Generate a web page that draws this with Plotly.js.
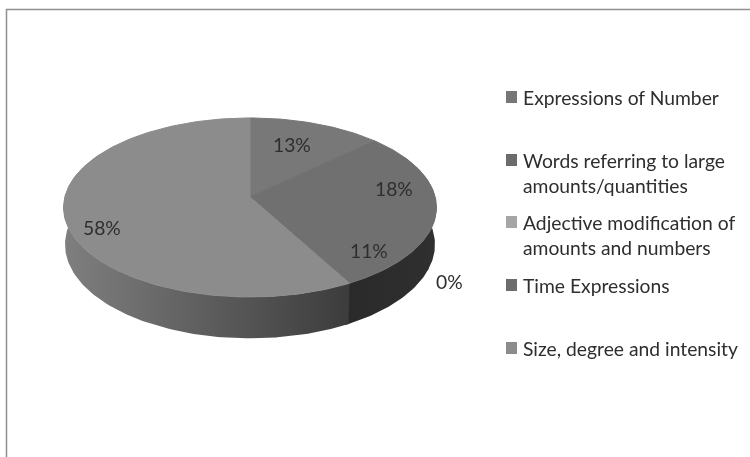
<!DOCTYPE html>
<html>
<head>
<meta charset="utf-8">
<script src="https://cdn.plot.ly/plotly-3.0.1.min.js"></script>
<style>html,body{margin:0;padding:0;background:#fff}#chart{width:750px;height:457px;filter:blur(0.45px)}</style>
</head>
<body>
<div id="chart"></div>
<script>
var categories = ['Expressions of Number', 'Words referring to large amounts/quantities', 'Adjective modification of amounts and numbers', 'Time Expressions', 'Size, degree and intensity'];
var legendLabels = ['Expressions of Number', 'Words referring to large<br>amounts/quantities', 'Adjective modification of<br>amounts and numbers', 'Time Expressions', 'Size, degree and intensity'];
var seriesValues = [13, 18, 11, 0, 58];
var valueLabels = ['13%', '18%', '11%', '0%', '58%'];
var topColors = ['#787878', '#707070', '#707070', '#6c6c6c', '#8c8c8c'];
var swatchColors = ['#767676', '#6c6c6c', '#a6a6a6', '#6c6c6c', '#8c8c8c'];
var wallStops = [['#2c2c2c', '#2c2c2c'], ['#2f2f2f', '#303030'], ['#2a2a2a', '#2f2f2f'], ['#2c2c2c', '#2c2c2c'], ['#7f7f7f', '#3c3c3c']];
var labelX = [292, 394, 369, 449, 102];
var labelY = [144, 188, 250, 281, 227];
var legendY = [97, 172.5, 235, 285, 348];
var legendLineY = [97, 160, 222, 285, 348];

var APEX_X = 250, APEX_Y = 197, SCALE_X = 185.2, SCALE_Y = 88.3, PERSP = 0.117, DEPTH = 36.5;

function rim(theta, lower) {
  var u = Math.sin(theta), v = Math.cos(theta), w = 1 + PERSP * v;
  return {x: APEX_X + (lower ? 0.992 : 1) * SCALE_X * u / w,
          y: APEX_Y - SCALE_Y * v / w + (lower ? DEPTH / w : 0)};
}
function arc(a0, a1, lower) {
  var n = Math.max(2, Math.ceil(Math.abs(a1 - a0) / 0.02)), pts = [];
  for (var i = 0; i <= n; i++) pts.push(rim(a0 + (a1 - a0) * i / n, lower));
  return pts;
}

var total = seriesValues.reduce(function (a, b) { return a + b; }, 0);
var wallTraces = [], topTraces = [], acc = 0;
seriesValues.forEach(function (val, i) {
  var a0 = acc / total * 2 * Math.PI;
  acc += val;
  var a1 = acc / total * 2 * Math.PI;
  if (val === 0) return;
  // the wall runs a little past the side tangents; the top face hides the excess.
  // each wall also runs slightly under the next one so no seam shows.
  var w0 = Math.max(a0, Math.PI / 2 - 0.5), w1 = Math.min(a1 + 0.02, 3 * Math.PI / 2 + 0.5);
  if (w1 > w0) {
    var up = arc(w0, w1, false), low = arc(w1, w0, true).concat([rim(w0, false)]);
    var poly = up.concat(low);
    var xs = poly.map(function (p) { return p.x; });
    var minX = Math.min.apply(null, xs), maxX = Math.max.apply(null, xs);
    wallTraces.push({
      type: 'scatter', mode: 'lines', x: xs, y: poly.map(function (p) { return p.y; }),
      fill: 'toself', line: {width: 0}, hoverinfo: 'skip', showlegend: false,
      fillgradient: {type: 'horizontal', start: minX, stop: maxX,
        colorscale: [[0, wallStops[i][0]], [1, wallStops[i][1]]]}
    });
  }
  var face = [{x: APEX_X, y: APEX_Y}].concat(arc(a0, a1, false)).concat([{x: APEX_X, y: APEX_Y}]);
  topTraces.push({
    type: 'scatter', mode: 'lines', name: categories[i],
    x: face.map(function (p) { return p.x; }), y: face.map(function (p) { return p.y; }),
    fill: 'toself', fillcolor: topColors[i], line: {color: topColors[i], width: 1}, hoverinfo: 'name', showlegend: false
  });
});

var FONT = {family: 'Lato, Carlito, sans-serif', size: 19.3, color: '#2e2e2e'};
var annotations = [], shapes = [
  {type: 'line', xref: 'x', yref: 'y', x0: 6, x1: 750, y0: 9.5, y1: 9.5, line: {color: '#8f8f8f', width: 1.5}},
  {type: 'line', xref: 'x', yref: 'y', x0: 6.5, x1: 6.5, y0: 9, y1: 457, line: {color: '#8f8f8f', width: 1.5}}
];
valueLabels.forEach(function (t, i) {
  annotations.push({xref: 'x', yref: 'y', x: labelX[i], y: labelY[i], text: t, showarrow: false,
    xanchor: 'center', yanchor: 'middle', font: FONT});
});
categories.forEach(function (c, i) {
  annotations.push({xref: 'x', yref: 'y', x: 521, y: legendY[i], text: legendLabels[i], showarrow: false,
    xanchor: 'left', yanchor: 'middle', align: 'left', font: FONT});
  shapes.push({type: 'rect', xref: 'x', yref: 'y', x0: 506, x1: 517, y0: legendLineY[i] - 6, y1: legendLineY[i] + 6,
    fillcolor: swatchColors[i], line: {width: 0}});
});

Plotly.newPlot('chart', wallTraces.concat(topTraces), {
  width: 750, height: 457, margin: {l: 0, r: 0, t: 0, b: 0},
  paper_bgcolor: '#ffffff', plot_bgcolor: '#ffffff', showlegend: false,
  xaxis: {range: [0, 750], visible: false, fixedrange: true},
  yaxis: {range: [457, 0], visible: false, fixedrange: true},
  annotations: annotations, shapes: shapes
}, {displayModeBar: false, staticPlot: true});
</script>
</body>
</html>
